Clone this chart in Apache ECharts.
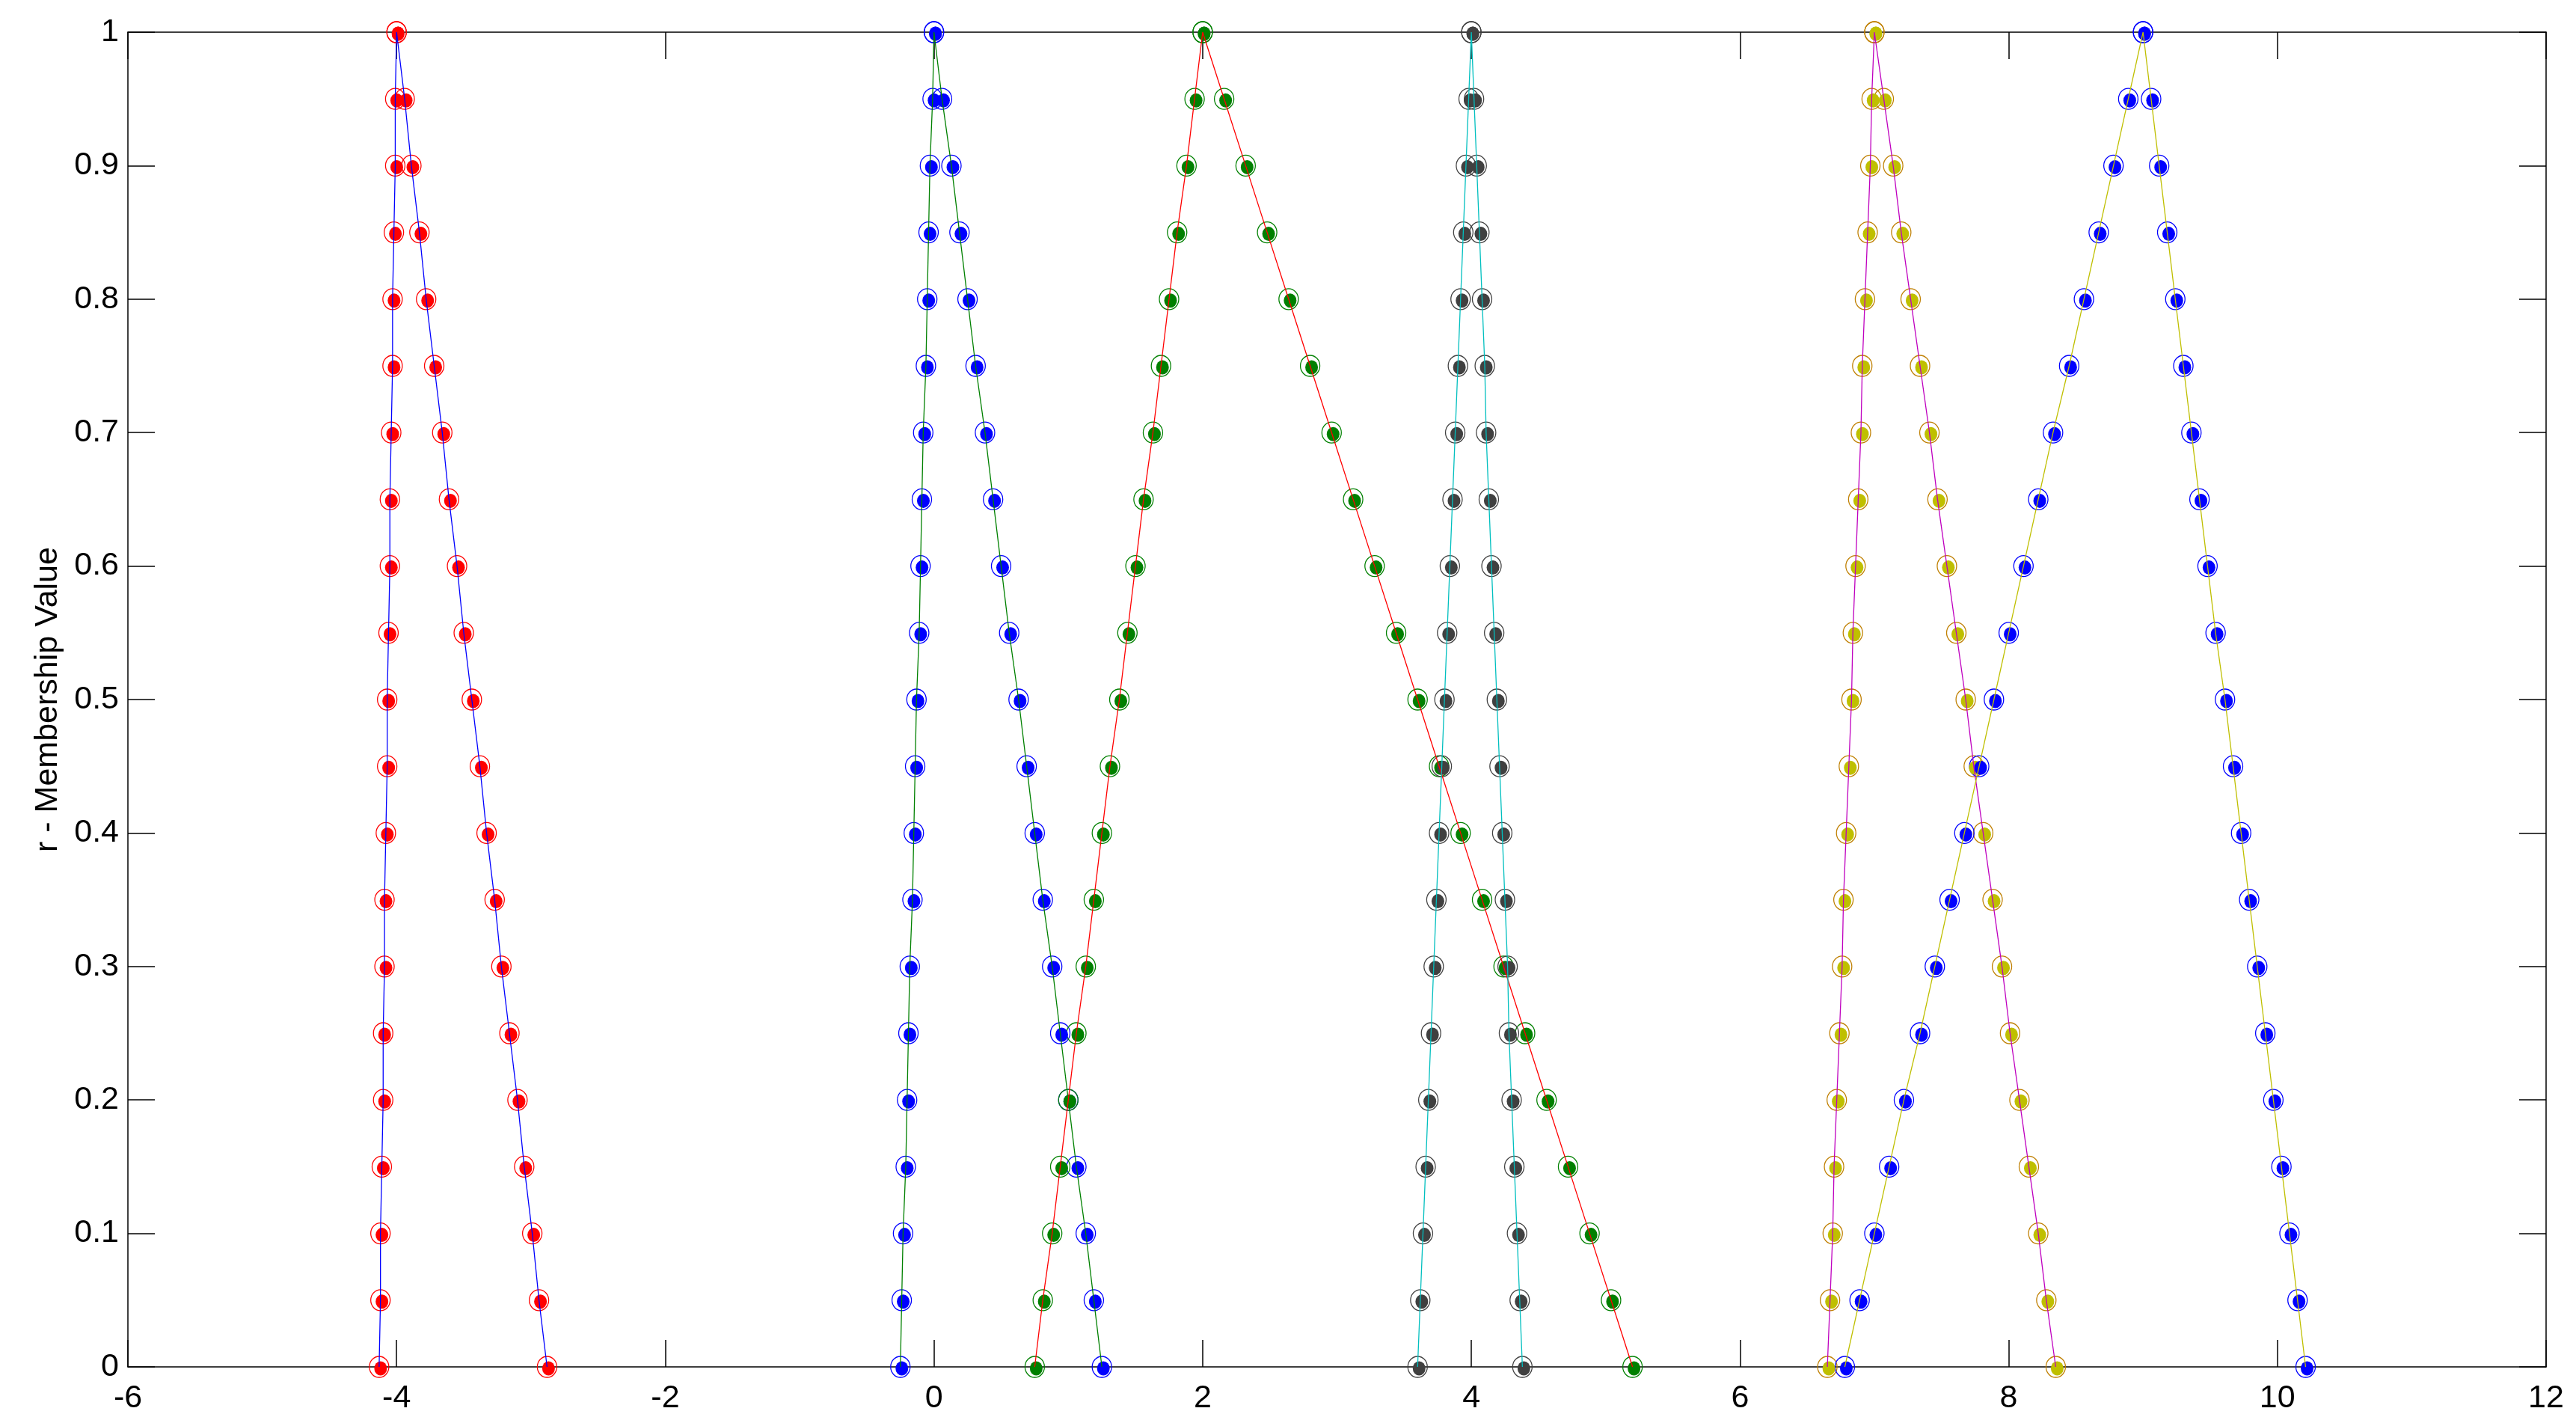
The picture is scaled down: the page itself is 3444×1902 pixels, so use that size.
<!DOCTYPE html>
<html>
<head>
<meta charset="utf-8">
<script src="https://cdn.jsdelivr.net/npm/echarts@6/dist/echarts.min.js"></script>
<style>
  html, body { margin: 0; padding: 0; background: #fff; }
  #chart { width: 3444px; height: 1902px; }
</style>
</head>
<body>
<div id="chart"></div>
<script>
// membership levels (alpha cuts), shared by every fuzzy number
const levels = [0, 0.05, 0.1, 0.15, 0.2, 0.25, 0.3, 0.35, 0.4, 0.45, 0.5,
  0.55, 0.6, 0.65, 0.7, 0.75, 0.8, 0.85, 0.9, 0.95, 1];

const xTicks = [-6, -4, -2, 0, 2, 4, 6, 8, 10, 12];
const yTicks = [0, 0.1, 0.2, 0.3, 0.4, 0.5, 0.6, 0.7, 0.8, 0.9, 1];

// left / right ends of each alpha cut
const aLeft = [-4.13, -4.12, -4.12, -4.11, -4.10, -4.10, -4.09, -4.09, -4.08, -4.07, -4.07,
  -4.06, -4.05, -4.05, -4.04, -4.03, -4.03, -4.02, -4.01, -4.01, -4.00];
const aRight = [-2.88, -2.94, -2.99, -3.05, -3.10, -3.16, -3.22, -3.27, -3.33, -3.38, -3.44,
  -3.50, -3.55, -3.61, -3.66, -3.72, -3.78, -3.83, -3.89, -3.94, -4.00];

const bLeft = [-0.25, -0.24, -0.23, -0.21, -0.20, -0.19, -0.18, -0.16, -0.15, -0.14, -0.13,
  -0.11, -0.10, -0.09, -0.08, -0.06, -0.05, -0.04, -0.03, -0.01, 0];
const bRight = [1.25, 1.19, 1.13, 1.06, 1.00, 0.94, 0.88, 0.81, 0.75, 0.69, 0.63,
  0.56, 0.50, 0.44, 0.38, 0.31, 0.25, 0.19, 0.13, 0.06, 0];

const cLeft = [0.75, 0.81, 0.88, 0.94, 1.00, 1.06, 1.13, 1.19, 1.25, 1.31, 1.38,
  1.44, 1.50, 1.56, 1.63, 1.69, 1.75, 1.81, 1.88, 1.94, 2.00];
const cRight = [5.20, 5.04, 4.88, 4.72, 4.56, 4.40, 4.24, 4.08, 3.92, 3.76, 3.60,
  3.44, 3.28, 3.12, 2.96, 2.80, 2.64, 2.48, 2.32, 2.16, 2.00];

const dLeft = [3.60, 3.62, 3.64, 3.66, 3.68, 3.70, 3.72, 3.74, 3.76, 3.78, 3.80,
  3.82, 3.84, 3.86, 3.88, 3.90, 3.92, 3.94, 3.96, 3.98, 4.00];
const dRight = [4.38, 4.36, 4.34, 4.32, 4.30, 4.28, 4.27, 4.25, 4.23, 4.21, 4.19,
  4.17, 4.15, 4.13, 4.11, 4.10, 4.08, 4.06, 4.04, 4.02, 4.00];

const eLeft = [6.65, 6.67, 6.69, 6.70, 6.72, 6.74, 6.76, 6.77, 6.79, 6.81, 6.83,
  6.84, 6.86, 6.88, 6.90, 6.91, 6.93, 6.95, 6.97, 6.98, 7.00];
const eRight = [8.35, 8.28, 8.22, 8.15, 8.08, 8.01, 7.95, 7.88, 7.81, 7.74, 7.68,
  7.61, 7.54, 7.47, 7.41, 7.34, 7.27, 7.20, 7.14, 7.07, 7.00];

const fLeft = [6.78, 6.89, 7.00, 7.11, 7.22, 7.34, 7.45, 7.56, 7.67, 7.78, 7.89,
  8.00, 8.11, 8.22, 8.33, 8.45, 8.56, 8.67, 8.78, 8.89, 9.00];
const fRight = [10.21, 10.15, 10.09, 10.03, 9.97, 9.91, 9.85, 9.79, 9.73, 9.67, 9.61,
  9.54, 9.48, 9.42, 9.36, 9.30, 9.24, 9.18, 9.12, 9.06, 9.00];

// marker colour, ring colour, line colour
const numbers = [
  { left: aLeft, right: aRight, dot: '#ff0000', ring: '#ff0000', line: '#0000ff' },
  { left: bLeft, right: bRight, dot: '#0000ff', ring: '#0000ff', line: '#008000' },
  { left: cLeft, right: cRight, dot: '#008000', ring: '#008000', line: '#ff0000' },
  { left: dLeft, right: dRight, dot: '#404040', ring: '#404040', line: '#00bfbf' },
  { left: eLeft, right: eRight, dot: '#bfbf00', ring: '#bf7f00', line: '#bf00bf' },
  { left: fLeft, right: fRight, dot: '#0000ff', ring: '#0000ff', line: '#bfbf00' }
];

const FONT = 'Liberation Sans, Arial, Helvetica, sans-serif';

function points(item) {
  const up = item.left.map((x, i) => [x, levels[i]]);
  const down = item.right.map((x, i) => [x, levels[i]]).reverse();
  return up.concat(down);
}

const series = [];
numbers.forEach((item) => {
  const data = points(item);
  series.push({
    type: 'scatter',
    data: data,
    symbol: 'circle',
    symbolSize: [26, 28],
    itemStyle: { color: 'rgba(0,0,0,0)', borderColor: item.ring, borderWidth: 1.3, opacity: 1 },
    z: 2,
    silent: true
  });
  series.push({
    type: 'scatter',
    data: data,
    symbol: 'circle',
    symbolSize: [17, 19],
    symbolOffset: [2, 2],
    itemStyle: { color: item.dot, opacity: 1 },
    z: 3,
    silent: true
  });
  series.push({
    type: 'line',
    data: data,
    symbol: 'none',
    lineStyle: { color: item.line, width: 1.3 },
    z: 4,
    silent: true
  });
});

const axisLine = { show: true, onZero: false, lineStyle: { color: '#000', width: 1.5 } };
const axisTick = { show: true, inside: true, length: 36, lineStyle: { color: '#000', width: 1.5 } };

const option = {
  animation: false,
  backgroundColor: '#fff',
  grid: { left: 171, right: 40, top: 43, bottom: 75 },
  xAxis: [
    {
      type: 'value', position: 'bottom', min: xTicks[0], max: xTicks[xTicks.length - 1], interval: 2,
      axisLine, axisTick, splitLine: { show: false },
      axisLabel: { color: '#000', fontSize: 43, fontFamily: FONT, margin: 21 }
    },
    {
      type: 'value', position: 'top', min: xTicks[0], max: xTicks[xTicks.length - 1], interval: 2,
      axisLine, axisTick, splitLine: { show: false }, axisLabel: { show: false }
    }
  ],
  yAxis: [
    {
      type: 'value', position: 'left', min: yTicks[0], max: yTicks[yTicks.length - 1], interval: 0.1,
      axisLine, axisTick, splitLine: { show: false },
      axisLabel: { color: '#000', fontSize: 43, fontFamily: FONT, margin: 12 },
      name: 'r - Membership Value', nameLocation: 'middle', nameRotate: 90, nameGap: 85,
      nameTextStyle: { color: '#000', fontSize: 43, fontFamily: FONT }
    },
    {
      type: 'value', position: 'right', min: yTicks[0], max: yTicks[yTicks.length - 1], interval: 0.1,
      axisLine, axisTick, splitLine: { show: false }, axisLabel: { show: false }
    }
  ],
  series: series
};

const chart = echarts.init(document.getElementById('chart'), null, { width: 3444, height: 1902 });
chart.setOption(option, true);
</script>
</body>
</html>
